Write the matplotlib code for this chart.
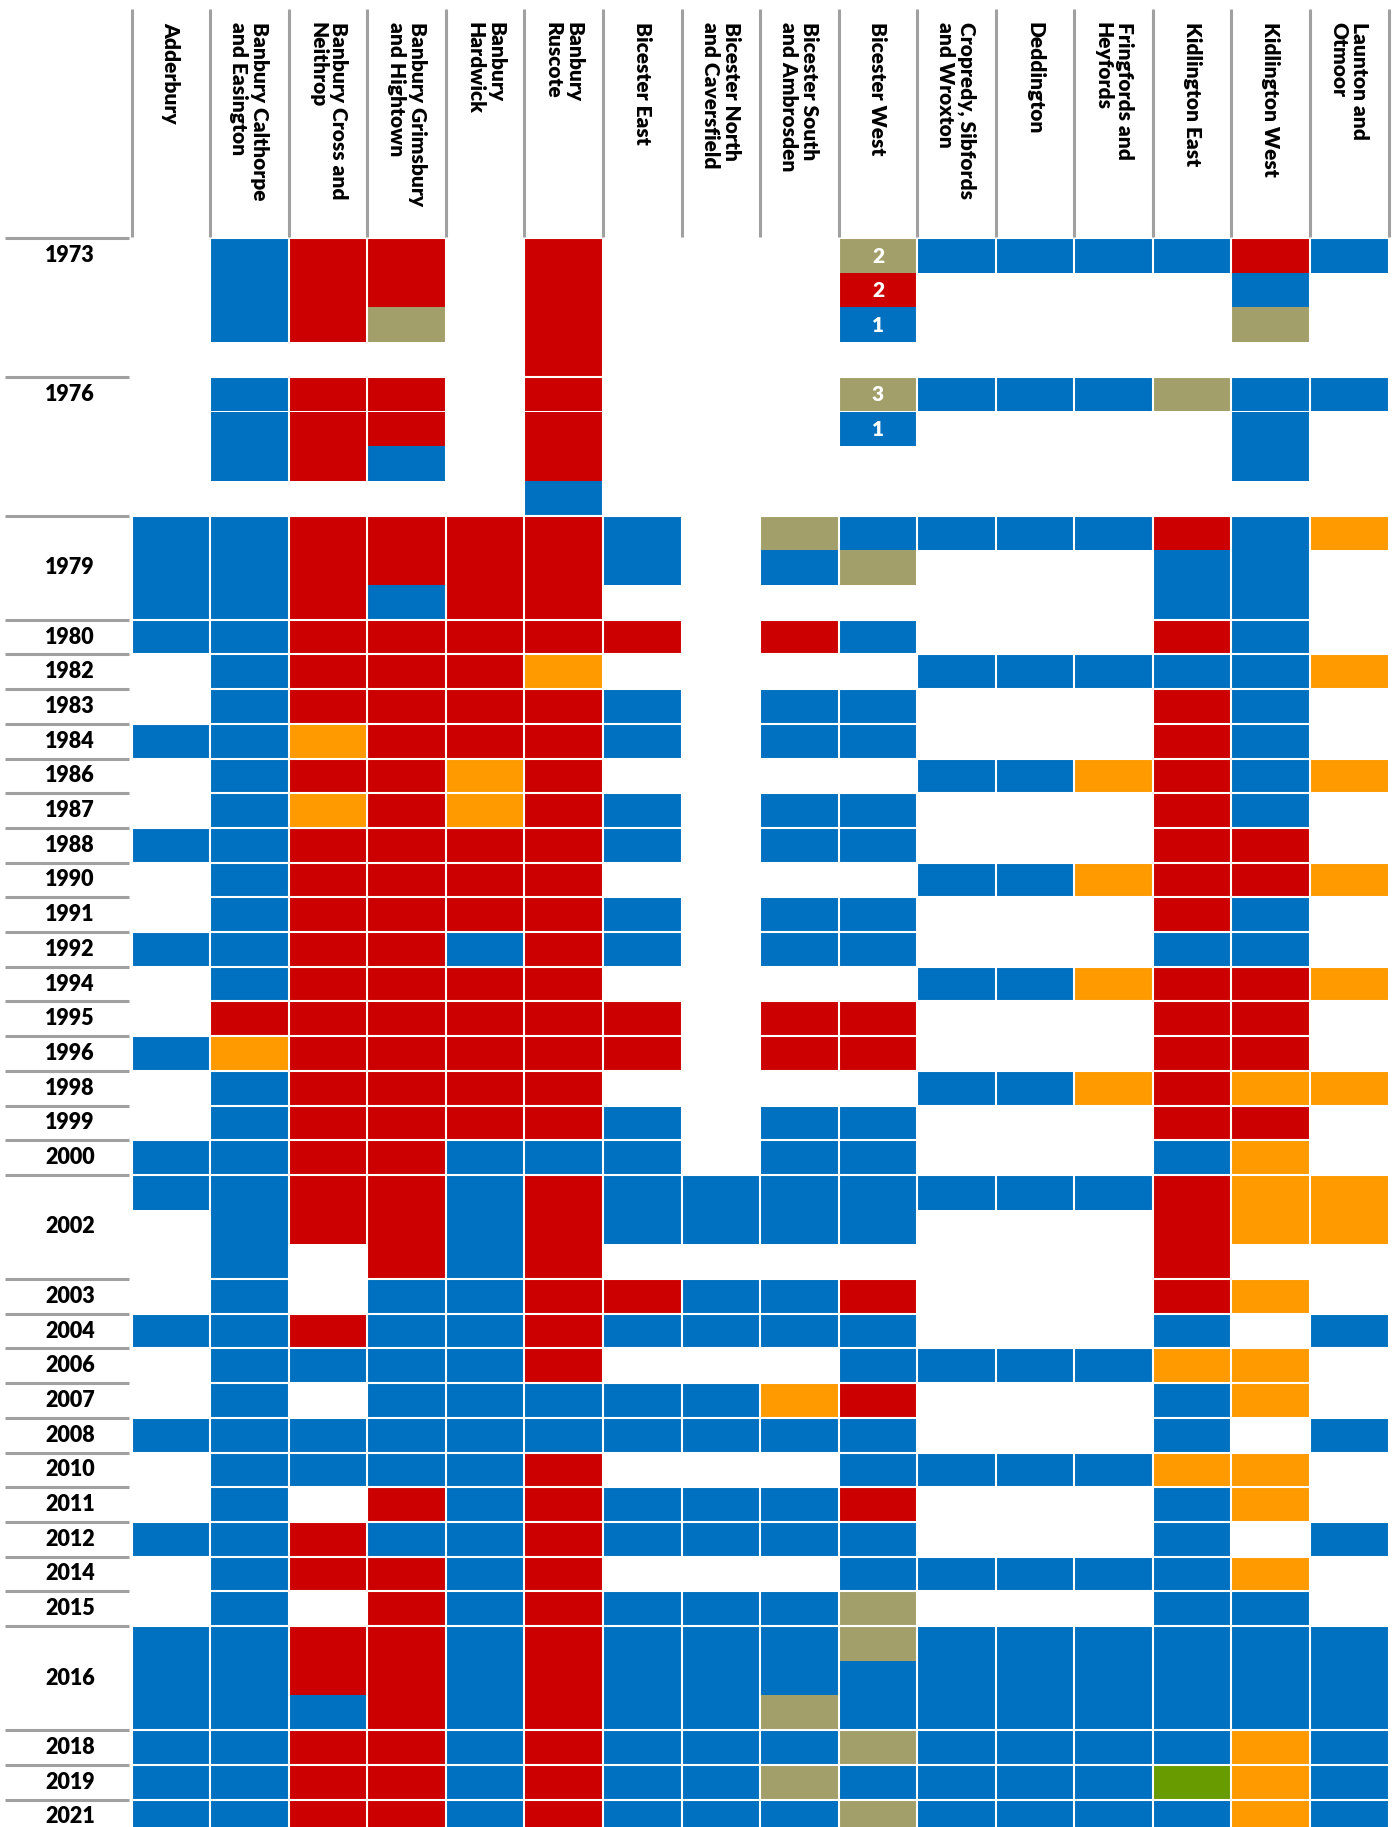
import matplotlib
matplotlib.use('Agg')
import matplotlib.pyplot as plt
import matplotlib.transforms as mtransforms

plt.rcParams['font.family'] = ['Lato', 'DejaVu Sans']

wards = ['Adderbury', 'Banbury Calthorpe\nand Easington', 'Banbury Cross and\nNeithrop',
         'Banbury Grimsbury\nand Hightown', 'Banbury\nHardwick', 'Banbury\nRuscote',
         'Bicester East', 'Bicester North\nand Caversfield', 'Bicester South\nand Ambrosden',
         'Bicester West', 'Cropredy, Sibfords\nand Wroxton', 'Deddington',
         'Fringfords and\nHeyfords', 'Kidlington East', 'Kidlington West', 'Launton and\nOtmoor']

years = ['1973', '1976', '1979', '1980', '1982', '1983', '1984', '1986', '1987', '1988',
         '1990', '1991', '1992', '1994', '1995', '1996', '1998', '1999', '2000', '2002',
         '2003', '2004', '2006', '2007', '2008', '2010', '2011', '2012', '2014', '2015',
         '2016', '2018', '2019', '2021']

# C = Conservative, L = Labour, D = Liberal / Lib Dem, I = Independent, G = Green
# one string per ward, seats listed top to bottom
winners = [
    ['', 'CCC', 'LLL', 'LLI', '', 'LLLL', '', '', '', 'ILC', 'C', 'C', 'C', 'C', 'LCI', 'C'],
    ['', 'CCC', 'LLL', 'LLC', '', 'LLLC', '', '', '', 'IC', 'C', 'C', 'C', 'I', 'CCC', 'C'],
    ['CCC', 'CCC', 'LLL', 'LLC', 'LLL', 'LLL', 'CC', '', 'IC', 'CI', 'C', 'C', 'C', 'LCC', 'CCC', 'D'],
    ['C', 'C', 'L', 'L', 'L', 'L', 'L', '', 'L', 'C', '', '', '', 'L', 'C', ''],
    ['', 'C', 'L', 'L', 'L', 'D', '', '', '', '', 'C', 'C', 'C', 'C', 'C', 'D'],
    ['', 'C', 'L', 'L', 'L', 'L', 'C', '', 'C', 'C', '', '', '', 'L', 'C', ''],
    ['C', 'C', 'D', 'L', 'L', 'L', 'C', '', 'C', 'C', '', '', '', 'L', 'C', ''],
    ['', 'C', 'L', 'L', 'D', 'L', '', '', '', '', 'C', 'C', 'D', 'L', 'C', 'D'],
    ['', 'C', 'D', 'L', 'D', 'L', 'C', '', 'C', 'C', '', '', '', 'L', 'C', ''],
    ['C', 'C', 'L', 'L', 'L', 'L', 'C', '', 'C', 'C', '', '', '', 'L', 'L', ''],
    ['', 'C', 'L', 'L', 'L', 'L', '', '', '', '', 'C', 'C', 'D', 'L', 'L', 'D'],
    ['', 'C', 'L', 'L', 'L', 'L', 'C', '', 'C', 'C', '', '', '', 'L', 'C', ''],
    ['C', 'C', 'L', 'L', 'C', 'L', 'C', '', 'C', 'C', '', '', '', 'C', 'C', ''],
    ['', 'C', 'L', 'L', 'L', 'L', '', '', '', '', 'C', 'C', 'D', 'L', 'L', 'D'],
    ['', 'L', 'L', 'L', 'L', 'L', 'L', '', 'L', 'L', '', '', '', 'L', 'L', ''],
    ['C', 'D', 'L', 'L', 'L', 'L', 'L', '', 'L', 'L', '', '', '', 'L', 'L', ''],
    ['', 'C', 'L', 'L', 'L', 'L', '', '', '', '', 'C', 'C', 'D', 'L', 'D', 'D'],
    ['', 'C', 'L', 'L', 'L', 'L', 'C', '', 'C', 'C', '', '', '', 'L', 'L', ''],
    ['C', 'C', 'L', 'L', 'C', 'C', 'C', '', 'C', 'C', '', '', '', 'C', 'D', ''],
    ['C', 'CCC', 'LL', 'LLL', 'CCC', 'LLL', 'CC', 'CC', 'CC', 'CC', 'C', 'C', 'C', 'LLL', 'DD', 'DD'],
    ['', 'C', '', 'C', 'C', 'L', 'L', 'C', 'C', 'L', '', '', '', 'L', 'D', ''],
    ['C', 'C', 'L', 'C', 'C', 'L', 'C', 'C', 'C', 'C', '', '', '', 'C', '', 'C'],
    ['', 'C', 'C', 'C', 'C', 'L', '', '', '', 'C', 'C', 'C', 'C', 'D', 'D', ''],
    ['', 'C', '', 'C', 'C', 'C', 'C', 'C', 'D', 'L', '', '', '', 'C', 'D', ''],
    ['C', 'C', 'C', 'C', 'C', 'C', 'C', 'C', 'C', 'C', '', '', '', 'C', '', 'C'],
    ['', 'C', 'C', 'C', 'C', 'L', '', '', '', 'C', 'C', 'C', 'C', 'D', 'D', ''],
    ['', 'C', '', 'L', 'C', 'L', 'C', 'C', 'C', 'L', '', '', '', 'C', 'D', ''],
    ['C', 'C', 'L', 'C', 'C', 'L', 'C', 'C', 'C', 'C', '', '', '', 'C', '', 'C'],
    ['', 'C', 'L', 'L', 'C', 'L', '', '', '', 'C', 'C', 'C', 'C', 'C', 'D', ''],
    ['', 'C', '', 'L', 'C', 'L', 'C', 'C', 'C', 'I', '', '', '', 'C', 'C', ''],
    ['CCC', 'CCC', 'LLC', 'LLL', 'CCC', 'LLL', 'CCC', 'CCC', 'CCI', 'ICC', 'CCC', 'CCC', 'CCC', 'CCC', 'CCC', 'CCC'],
    ['C', 'C', 'L', 'L', 'C', 'L', 'C', 'C', 'C', 'I', 'C', 'C', 'C', 'C', 'D', 'C'],
    ['C', 'C', 'L', 'L', 'C', 'L', 'C', 'C', 'I', 'C', 'C', 'C', 'C', 'G', 'D', 'C'],
    ['C', 'C', 'L', 'L', 'C', 'L', 'C', 'C', 'C', 'I', 'C', 'C', 'C', 'C', 'D', 'C'],
]

# seat counts written inside grouped cells (year, ward index)
seat_counts = {('1973', 9): [2, 2, 1], ('1976', 9): [3, 1]}
label_on_top = ['1973', '1976']

party_colors = {'C': '#0070C0', 'L': '#CC0000', 'D': '#FF9A00', 'I': '#A29F6B', 'G': '#679B00'}

W, H = 1399, 1827
fig = plt.figure(figsize=(W / 100, H / 100), dpi=100)

grid_left, grid_right, grid_top = 131.6, 1388.6, 238.0
row_h = 34.7
ax = fig.add_axes([grid_left / W, 0, (grid_right - grid_left) / W, (H - grid_top) / H])
ax.set_xlim(-0.5, len(wards) - 0.5)
ax.set_ylim((H - grid_top) / row_h, 0)
ax.axis('off')

n_rows = [max(1, max(len(s) for s in row)) for row in winners]
starts = [sum(n_rows[:i]) for i in range(len(n_rows))]

for i, row in enumerate(winners):
    for j, seats in enumerate(row):
        for k, p in enumerate(seats):
            ax.bar(j, 1, bottom=starts[i] + k, width=1, color=party_colors[p],
                   linewidth=0, align='center')
        counts = seat_counts.get((years[i], j))
        if counts:
            for k, c in enumerate(counts):
                ax.text(j, starts[i] + k + 0.52, str(c), color='white', fontsize=15,
                        fontweight='heavy', ha='center', va='center')

# white gaps between cells
for x in range(len(wards) + 1):
    ax.axvline(x - 0.5, color='white', lw=1.5)
for i in range(len(years) + 1):
    y = starts[i] if i < len(years) else starts[-1] + n_rows[-1]
    ax.axhline(y, color='white', lw=1.5, clip_on=False)

# year labels and separators
tr_y = mtransforms.blended_transform_factory(fig.transFigure, ax.transData)
for i, yr in enumerate(years):
    yc = starts[i] + 0.5 if yr in label_on_top else starts[i] + n_rows[i] / 2
    ax.text(70 / W, yc, yr, transform=tr_y, fontsize=15.5, fontweight='heavy',
            ha='center', va='center', clip_on=False)
ax.hlines(starts + [starts[-1] + n_rows[-1]], 5 / W, 129 / W, transform=tr_y,
          color='#A0A0A0', lw=2.2, clip_on=False)

# header
tr_x = mtransforms.blended_transform_factory(ax.transData, fig.transFigure)
ax.vlines([x - 0.5 for x in range(len(wards) + 1)], 1 - 237 / H, 1 - 9 / H,
          transform=tr_x, color='#A0A0A0', lw=2.2, clip_on=False)
for j, name in enumerate(wards):
    ax.text(j, 1 - 22 / H, name, transform=tr_x, rotation=270, fontsize=15,
            fontweight='heavy', ha='center', va='top', multialignment='left',
            linespacing=1.12, clip_on=False)

fig.savefig('out.png', dpi=100)
